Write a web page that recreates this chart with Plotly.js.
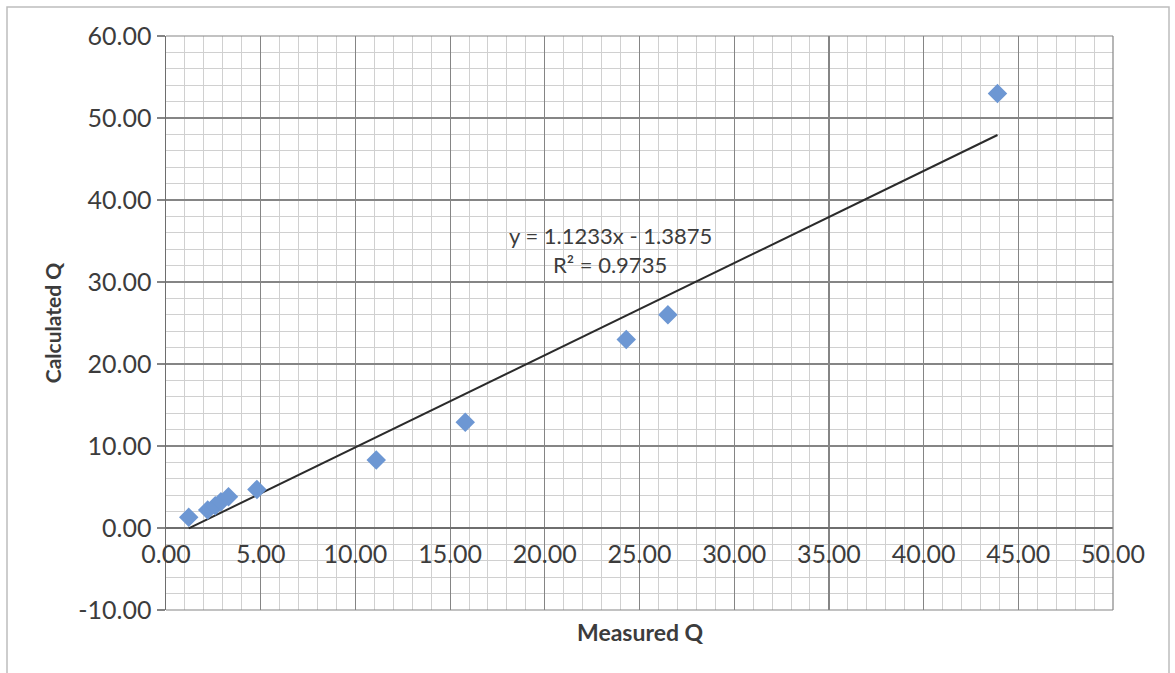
<!DOCTYPE html>
<html>
<head>
<meta charset="utf-8">
<script src="https://cdn.plot.ly/plotly-3.0.1.min.js"></script>
<style>
html,body{margin:0;padding:0;background:#ffffff;}
#chart{width:1175px;height:673px;}
</style>
</head>
<body>
<div id="chart"></div>
<script>
// Data
const measuredQ   = [1.2, 2.2, 2.6, 2.9, 3.3, 4.8, 11.1, 15.8, 24.3, 26.5, 43.9];
const calculatedQ = [1.3, 2.2, 2.7, 3.2, 3.8, 4.7, 8.3, 12.9, 23.0, 26.0, 53.0];
const trendSlope = [1.1233];
const trendIntercept = [-1.3875];
const equationText = ["y = 1.1233x - 1.3875", "R² = 0.9735"];
const xTickVals = [0, 5, 10, 15, 20, 25, 30, 35, 40, 45, 50];
const yTickVals = [-10, 0, 10, 20, 30, 40, 50, 60];
const xTitle = "Measured Q";
const yTitle = "Calculated Q";

const xMin = Math.min(...measuredQ), xMax = Math.max(...measuredQ);
const trendX = [xMin, xMax];
const trendY = trendX.map(x => trendSlope[0] * x + trendIntercept[0]);

const W = 1175, H = 673;
const L = 166, R = 1113, T = 36, B = 610;
const px = p => (p - L) / (R - L);
const py = p => (B - p) / (B - T);

const font = "Lato, 'Open Sans', 'DejaVu Sans', sans-serif";
const txt = '#3c3c3c';

const traces = [
  {
    x: trendX, y: trendY, type: 'scatter', mode: 'lines', xaxis: 'x', yaxis: 'y',
    line: {color: '#2b2b2b', width: 2}, hoverinfo: 'skip', showlegend: false
  },
  {
    x: measuredQ, y: calculatedQ, type: 'scatter', mode: 'markers', xaxis: 'x2', yaxis: 'y',
    marker: {symbol: 'diamond', size: 15, color: '#6d97d3', line: {width: 0}},
    showlegend: false
  }
];

const xr = [0, 50], yr = [-10, 60];
const layout = {
  width: W, height: H,
  paper_bgcolor: '#ffffff', plot_bgcolor: '#ffffff',
  margin: {l: L, r: W - R, t: T, b: H - B, pad: 0},
  font: {family: font, size: 25, color: txt},
  xaxis: {
    range: xr, tickvals: xTickVals, showticklabels: false,
    showline: false, ticks: '',
    showgrid: true, gridcolor: '#858585', gridwidth: 1.2,
    minor: {dtick: 1, showgrid: true, gridcolor: '#d0d0d0', gridwidth: 1},
    zeroline: false
  },
  xaxis2: {
    range: xr, tickvals: xTickVals,
    ticktext: xTickVals.map(v => v.toFixed(2)),
    overlaying: 'x', anchor: 'free', side: 'bottom',
    position: (0 - yr[0]) / (yr[1] - yr[0]),
    showline: false, ticks: '', showgrid: false, zeroline: false,
    tickfont: {family: font, size: 25, color: txt},
    ticklabelstandoff: 9
  },
  yaxis: {
    range: yr, tickvals: yTickVals,
    ticktext: yTickVals.map(v => v.toFixed(2)),
    showline: true, linecolor: '#6e6e6e', linewidth: 1.5,
    ticks: 'outside', ticklen: 8, tickcolor: '#858585', tickwidth: 1.2,
    showgrid: true, gridcolor: '#858585', gridwidth: 1.2,
    minor: {dtick: 2, showgrid: true, gridcolor: '#d0d0d0', gridwidth: 1},
    zeroline: true, zerolinecolor: '#6e6e6e', zerolinewidth: 1.5,
    tickfont: {family: font, size: 25, color: txt},
    ticklabelstandoff: 0,
    title: {text: yTitle, font: {family: font, size: 21, color: txt, weight: 'bold'}, standoff: 11}
  },
  annotations: [
    {xref: 'paper', yref: 'paper', x: px(640), y: py(632), text: xTitle, showarrow: false,
     font: {family: font, size: 23, color: txt, weight: 'bold'}, xanchor: 'center', yanchor: 'middle'},
    {xref: 'paper', yref: 'paper', x: px(610), y: py(235), text: equationText[0], showarrow: false,
     font: {family: font, size: 22, color: txt}, xanchor: 'center', yanchor: 'middle'},
    {xref: 'paper', yref: 'paper', x: px(610), y: py(264), text: equationText[1], showarrow: false,
     font: {family: font, size: 22, color: txt}, xanchor: 'center', yanchor: 'middle'}
  ],
  shapes: [
    {type: 'rect', xref: 'paper', yref: 'paper', x0: px(7), x1: px(1169), y0: py(690), y1: py(7),
     line: {color: '#bdbdbd', width: 1.5}, fillcolor: 'rgba(0,0,0,0)', layer: 'below'},
    {type: 'line', xref: 'paper', yref: 'paper', x0: 0, x1: 1, y0: 1, y1: 1,
     line: {color: '#858585', width: 1.2}},
    {type: 'line', xref: 'paper', yref: 'paper', x0: 1, x1: 1, y0: 0, y1: 1,
     line: {color: '#858585', width: 1.2}},
    {type: 'line', xref: 'paper', yref: 'paper', x0: 0, x1: 1, y0: 0, y1: 0,
     line: {color: '#858585', width: 1.2}}
  ]
};

Plotly.newPlot('chart', traces, layout, {displayModeBar: false, staticPlot: true});
</script>
</body>
</html>
